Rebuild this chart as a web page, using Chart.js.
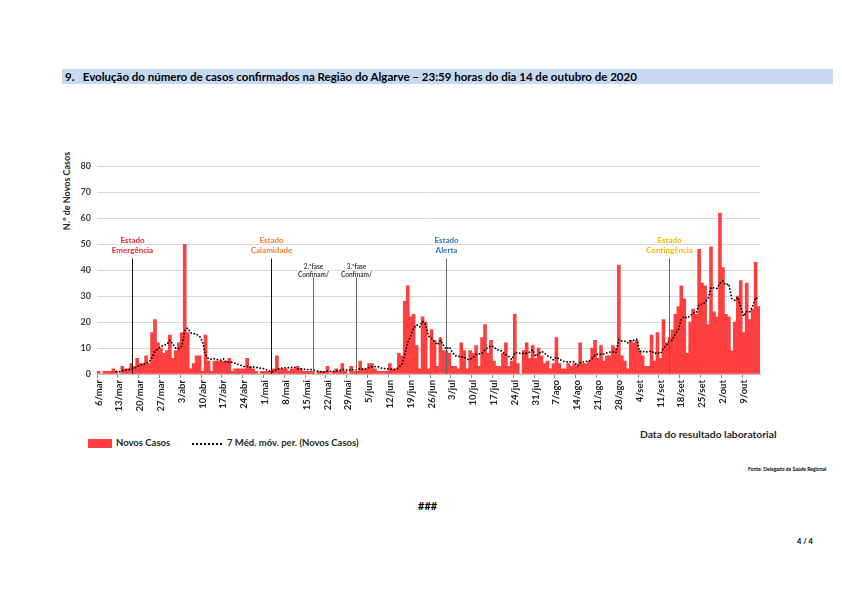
<!DOCTYPE html>
<html>
<head>
<meta charset="utf-8">
<script src="https://cdn.jsdelivr.net/npm/chart.js@4"></script>
<style>
  body { margin:0; width:842px; height:595px; background:#fff; font-family:Lato, "Open Sans", sans-serif; position:relative; overflow:hidden; color:#000; }
  .abs { position:absolute; white-space:nowrap; font-weight:bold; }
  #band { position:absolute; left:62px; top:69px; width:771px; height:15px; background:#c6d9f1; }
  #wrap { position:absolute; left:62px; top:155px; width:710px; height:265px; }
</style>
</head>
<body>
<div id="band"></div>
<div class="abs" style="left:65px;top:69px;font-size:11.5px;line-height:15px;">9.&nbsp;&nbsp;&nbsp;Evolução do número de casos confirmados na Região do Algarve – 23:59 horas do dia 14 de outubro de 2020</div>

<div class="abs" style="left:66px;top:191px;font-size:9px;color:#262626;transform:translate(-50%,-50%) rotate(-90deg);">N.º de Novos Casos</div>

<div id="wrap"><canvas id="chart"></canvas></div>

<div style="position:absolute;left:88px;top:439px;width:24px;height:9px;background:#ff3f3f;"></div>
<div class="abs" style="left:116px;top:437px;font-size:9.5px;color:#262626;">Novos Casos</div>
<div style="position:absolute;left:192px;top:443px;width:30px;border-top:2.5px dotted #000;"></div>
<div class="abs" style="left:227px;top:437px;font-size:9.5px;color:#262626;">7 Méd. móv. per. (Novos Casos)</div>
<div class="abs" style="left:640px;top:428px;font-size:10.3px;color:#262626;">Data do resultado laboratorial</div>
<div class="abs" style="left:748px;top:466px;font-size:5px;">Fonte: Delegado de Saúde Regional</div>
<div class="abs" style="left:418px;top:499px;font-size:11px;">###</div>
<div class="abs" style="left:797px;top:537px;font-size:7.5px;">4 / 4</div>

<script>
// novos casos por dia (6/mar a 14/out)
const casosMar = [1,0,1,1,1,2,1,0,3,2,2,4,3,6,4,4,7,4,16,21,12,10,8,9,15,6]
const casosAbr = [9,12,16,50,16,2,4,7,7,1,15,5,1,5,5,5,5,5,6,1,2,2,2,2,6,3,2,1,0,1]
const casosMai = [1,1,1,2,7,2,2,2,1,2,2,3,2,1,1,1,1,0,1,1,1,3,0,1,2,1,4,1,0,3,1]
const casosJun = [1,5,2,2,4,4,2,1,1,1,1,4,2,2,8,7,28,34,22,23,11,2,22,20,2,17,13,3,14,9]
const casosJul = [9,8,3,3,2,12,9,2,9,8,11,3,14,19,8,13,5,3,3,8,12,3,5,23,4,0,9,12,6,11,6]
const casosAgo = [10,7,4,5,2,4,14,4,2,2,4,3,4,3,12,4,4,5,10,13,6,11,5,7,7,11,10,42,7,5,2]
const casosSet = [13,12,13,9,7,3,3,15,5,16,6,21,12,14,17,23,26,34,29,8,20,25,23,48,35,34,19,49,24,22]
const casosOut = [62,41,23,22,9,20,30,36,16,35,21,25,43,26]

const casos = [].concat(casosMar, casosAbr, casosMai, casosJun, casosJul, casosAgo, casosSet, casosOut)

const meses = ['jan','fev','mar','abr','mai','jun','jul','ago','set','out','nov','dez']
const tickLabels = ['6/mar','13/mar','20/mar','27/mar','3/abr','10/abr','17/abr','24/abr','1/mai','8/mai','15/mai','22/mai','29/mai','5/jun','12/jun','19/jun','26/jun','3/jul','10/jul','17/jul','24/jul','31/jul','7/ago','14/ago','21/ago','28/ago','4/set','11/set','18/set','25/set','2/out','9/out']

// eventos (posição no eixo dos dias)
const eventoPos = [11.4, 58, 72.3, 86.7, 117, 191.9]
const eventoTexto = [['Estado','Emergência'],['Estado','Calamidade'],['2.ªfase','Confinam/'],['3.ªfase','Confinam/'],['Estado','Alerta'],['Estado','Contingência']]
const eventoCor = ['#e8262b','#ed7d31','#404040','#404040','#2e75b6','#f5b800']

let dias = []
let d = new Date(2020, 2, 6)
for(let i = 0; i < casos.length; i++){
  dias.push(d.getDate() + '/' + meses[d.getMonth()])
  d.setDate(d.getDate() + 1)
}

// média móvel de 7 períodos (linha de tendência)
const media = casos.map((v, i) => {
  if(i < 6) return null
  let s = 0
  for(let k = i - 6; k <= i; k++) s += casos[k]
  return s / 7
})

const eventos = {
  id: 'eventos',
  afterDatasetsDraw(chart){
    const {ctx, scales:{x, y}} = chart
    ctx.save()
    for(let i = 0; i < eventoPos.length; i++){
      const px = Math.round(x.getPixelForValue(eventoPos[i])) + 0.5
      const estado = eventoTexto[i][0] == 'Estado'
      const top = y.getPixelForValue(estado ? 44.5 : 37.2)
      ctx.strokeStyle = i < 2 ? '#111' : '#666'
      ctx.lineWidth = 1
      ctx.beginPath()
      ctx.moveTo(px, top)
      ctx.lineTo(px, y.getPixelForValue(0))
      ctx.stroke()
      ctx.fillStyle = eventoCor[i]
      ctx.textAlign = 'center'
      ctx.textBaseline = 'middle'
      if(estado){
        ctx.font = 'bold 8px Lato'
        ctx.fillText(eventoTexto[i][0], px, top - 18)
        ctx.fillText(eventoTexto[i][1], px, top - 8)
      }else{
        ctx.font = 'bold 6.5px Lato'
        ctx.fillText(eventoTexto[i][0], px, top - 11)
        ctx.fillText(eventoTexto[i][1], px, top - 3)
      }
    }
    ctx.restore()
  }
}

new Chart('chart', {
  data: {
    labels: dias,
    datasets: [
      {
        type: 'line',
        label: '7 Méd. móv. per. (Novos Casos)',
        data: media,
        borderColor: '#000',
        borderWidth: 1.8,
        borderDash: [0.1, 3.2],
        borderCapStyle: 'round',
        pointRadius: 0,
        tension: 0,
        fill: false,
        order: 0
      },
      {
        type: 'bar',
        label: 'Novos Casos',
        data: casos,
        backgroundColor: '#ff3f3f',
        barPercentage: 1,
        categoryPercentage: 1,
        order: 1
      }
    ]
  },
  options: {
    responsive: true,
    maintainAspectRatio: false,
    animation: false,
    layout: { padding: { top: 0, right: 2, bottom: 4, left: 0 } },
    plugins: { legend: { display: false }, tooltip: { enabled: false } },
    scales: {
      x: {
        grid: {
          drawOnChartArea: false,
          tickLength: 4,
          color: (c) => (c.index % 7 === 0 ? '#8c8c8c' : 'rgba(0,0,0,0)')
        },
        border: { color: '#bfbfbf' },
        ticks: {
          autoSkip: false,
          maxRotation: 90,
          minRotation: 90,
          padding: 2,
          color: '#262626',
          font: { family: 'Lato', size: 9.5, weight: 'bold' },
          callback: function(v, i){ return tickLabels.includes(dias[i]) ? dias[i] : '' }
        },
        afterFit: (s) => { s.height = 42 }
      },
      y: {
        min: 0,
        max: 80,
        border: { display: false },
        grid: { color: '#d9d9d9', drawTicks: false },
        ticks: {
          stepSize: 5,
          padding: 6,
          color: '#404040',
          font: { family: 'Lato', size: 9, weight: 'bold' },
          callback: (v) => (v % 10 === 0 ? v : '')
        },
        afterFit: (s) => { s.width = 35 }
      }
    }
  },
  plugins: [eventos]
})
</script>
</body>
</html>
